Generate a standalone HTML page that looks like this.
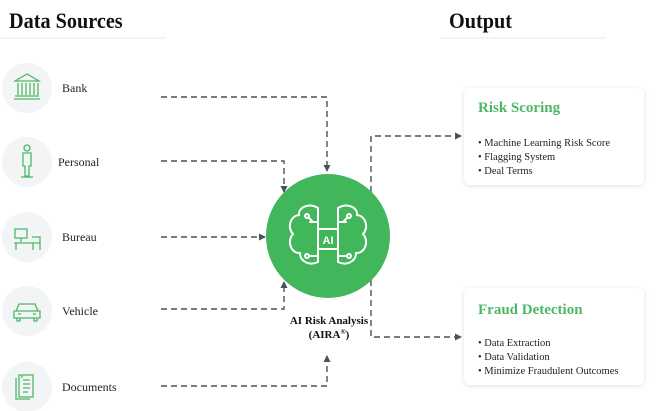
<!DOCTYPE html>
<html><head><meta charset="utf-8"><style>
html,body{margin:0;padding:0;background:#fff;}
svg{display:block;font-family:"Liberation Serif",serif;}
</style></head><body>
<svg width="660" height="411" viewBox="0 0 660 411" xmlns="http://www.w3.org/2000/svg">
<defs>
<marker id="ar" markerWidth="8" markerHeight="8" refX="6" refY="4" orient="auto" markerUnits="userSpaceOnUse"><path d="M0,0.5 L7,4 L0,7.5z" fill="#4a5060"/></marker>
<filter id="sh" x="-10%" y="-10%" width="120%" height="130%"><feDropShadow dx="0" dy="1" stdDeviation="2.5" flood-color="#000" flood-opacity="0.12"/></filter>
</defs>
<text x="9" y="28" font-size="22" font-weight="bold" fill="#111" transform="translate(9 0) scale(0.92 1) translate(-9 0)">Data Sources</text>
<line x1="0" y1="38" x2="166" y2="38" stroke="#eef0f2" stroke-width="1.5"/>
<text x="449" y="28" font-size="22" font-weight="bold" fill="#111" transform="translate(449 0) scale(0.92 1) translate(-449 0)">Output</text>
<line x1="440" y1="38" x2="606" y2="38" stroke="#eef0f2" stroke-width="1.5"/>

<g fill="#f2f4f6">
<circle cx="27" cy="88" r="25"/><circle cx="27" cy="162" r="25"/><circle cx="27" cy="237" r="25"/><circle cx="27" cy="311" r="25"/><circle cx="27" cy="387" r="25"/>
</g>
<g stroke="#4cb865" stroke-width="1.3" fill="none">
<!-- bank -->
<path d="M15,81 L27,74 L39,81 Z M14,99 H40 M15,96 H39 M18,83 V95 M22,83 V95 M26,83 V95 M30,83 V95 M34,83 V95 M38,83 V95"/>
<!-- person -->
<circle cx="27" cy="148" r="3"/><path d="M23,153 H31 V166 H29 V176 H25 V166 H23 Z M21,177 H33"/>
<!-- bureau -->
<path d="M15,229 H27 V238 H15 Z M21,238 V242 M14,243 H40 V250 M16,243 V250 M32,237 H40 V243 M33,243 V250"/>
<!-- car -->
<path d="M16,311 L19,304 H35 L38,311 H40 V318 H14 V311 Z M16,311 H38 M18,314 H21 M33,314 H36 M17,318 V321 H20 V318 M34,318 V321 H37 V318"/>
<!-- documents -->
<path d="M19,375 H33 V397 H19 Z M22,378 V375 M23,380 H30 M23,384 H30 M23,388 H30 M23,392 H28 M16,378 V399 H30"/>
</g>
<g font-size="12" fill="#222">
<text x="62" y="92">Bank</text>
<text x="58" y="166">Personal</text>
<text x="62" y="241">Bureau</text>
<text x="62" y="315">Vehicle</text>
<text x="62" y="391">Documents</text>
</g>

<g stroke="#4a5060" stroke-width="1.4" fill="none" stroke-dasharray="6,4">
<path d="M161,97 H327 V171" marker-end="url(#ar)"/>
<path d="M161,161 H284 V192" marker-end="url(#ar)"/>
<path d="M161,237 H265" marker-end="url(#ar)"/>
<path d="M161,309 H284 V282" marker-end="url(#ar)"/>
<path d="M161,386 H327 V356" marker-end="url(#ar)"/>
<path d="M371,192 V136 H461" marker-end="url(#ar)"/>
<path d="M371,280 V337 H461" marker-end="url(#ar)"/>
</g>

<circle cx="328" cy="236" r="62" fill="#41b65b"/>
<g stroke="#fff" stroke-width="2" fill="none" stroke-linecap="round">
<path d="M318,208 C308,202 298,208 299,215 C290,216 287,228 293,234 C286,242 292,254 300,253 C300,262 310,266 318,262 V208"/>
<path d="M338,208 C348,202 358,208 357,215 C366,216 369,228 363,234 C370,242 364,254 356,253 C356,262 346,266 338,262 V208"/>
<rect x="318" y="229" width="20" height="20" rx="2"/>
<path d="M318,222 H310 M338,222 H346 M318,256 H310 M338,256 H346 M313,222 l-4,-4 M343,222 l4,-4"/>
<circle cx="307" cy="216" r="2"/><circle cx="349" cy="216" r="2"/><circle cx="307" cy="256" r="2"/><circle cx="349" cy="256" r="2"/>
</g>
<text x="328" y="244" font-family="Liberation Sans,sans-serif" font-size="11" font-weight="bold" fill="#fff" text-anchor="middle">AI</text>
<g font-size="11" font-weight="bold" fill="#111" text-anchor="middle">
<text x="329" y="324">AI Risk Analysis</text>
<text x="329" y="338">(AIRA<tspan font-size="7" dy="-4">®</tspan><tspan dy="4">)</tspan></text>
</g>

<rect x="464" y="88" width="180" height="97" rx="6" fill="#fff" filter="url(#sh)"/>
<rect x="464" y="288" width="180" height="97" rx="6" fill="#fff" filter="url(#sh)"/>
<g font-weight="bold" font-size="15" fill="#4cb865">
<text x="478" y="112">Risk Scoring</text>
<text x="478" y="314">Fraud Detection</text>
</g>
<g font-size="10.5" fill="#222">
<text x="478" y="146">• Machine Learning Risk Score</text>
<text x="478" y="160">• Flagging System</text>
<text x="478" y="174">• Deal Terms</text>
<text x="478" y="346">• Data Extraction</text>
<text x="478" y="360">• Data Validation</text>
<text x="478" y="374">• Minimize Fraudulent Outcomes</text>
</g>
</svg>
</body></html>
